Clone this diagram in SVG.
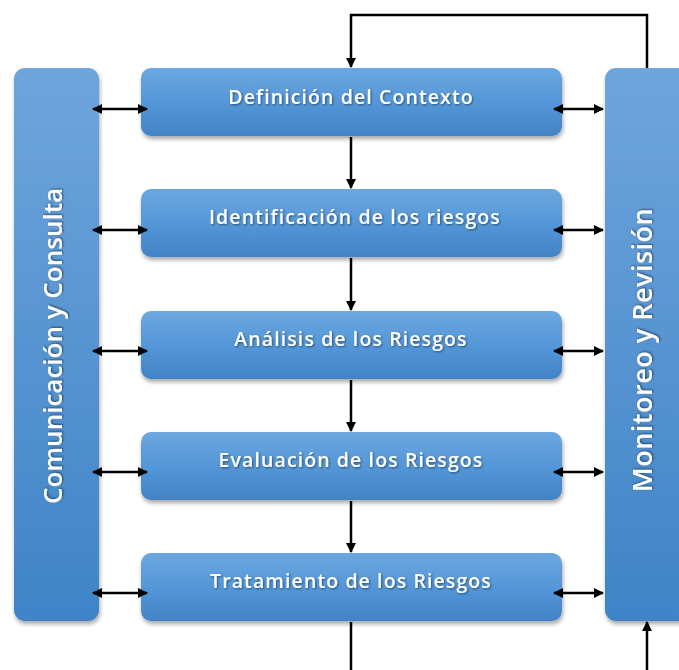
<svg xmlns="http://www.w3.org/2000/svg" width="679" height="670" viewBox="0 0 679 670">
<defs>
<linearGradient id="gBox" x1="0" y1="0" x2="0" y2="1">
<stop offset="0" stop-color="#6ca7df"/>
<stop offset="0.5" stop-color="#5497d8"/>
<stop offset="1" stop-color="#4283c6"/>
</linearGradient>
<linearGradient id="gBar" x1="0" y1="0" x2="0" y2="1">
<stop offset="0" stop-color="#6fa5dc"/>
<stop offset="1" stop-color="#3f84c7"/>
</linearGradient>
<filter id="sh" x="-10%" y="-10%" width="120%" height="130%">
<feGaussianBlur in="SourceAlpha" stdDeviation="2"/>
<feOffset dx="1" dy="3" result="b"/>
<feComponentTransfer><feFuncA type="linear" slope="0.35"/></feComponentTransfer>
<feMerge><feMergeNode/><feMergeNode in="SourceGraphic"/></feMerge>
</filter>
<filter id="ts" x="-5%" y="-20%" width="110%" height="140%">
<feGaussianBlur in="SourceAlpha" stdDeviation="0.8"/>
<feOffset dx="0.5" dy="1" result="b"/>
<feComponentTransfer><feFuncA type="linear" slope="0.5"/></feComponentTransfer>
<feMerge><feMergeNode/><feMergeNode in="SourceGraphic"/></feMerge>
</filter>
<marker id="ah" viewBox="0 0 10 10" refX="9" refY="5" markerWidth="4" markerHeight="4" orient="auto-start-reverse" markerUnits="strokeWidth">
<path d="M0,0 L10,5 L0,10 Z" fill="#000"/>
</marker>
</defs>
<style>
.box{fill:url(#gBox);filter:url(#sh)}
.bar{fill:url(#gBar);filter:url(#sh)}
.t{font-family:"Open Sans","Noto Sans","DejaVu Sans",sans-serif;font-weight:600;fill:#fff;text-anchor:middle;filter:url(#ts)}
.bt{font-size:19.5px;letter-spacing:1.1px}
.vt{font-size:26px}
.c{stroke:#000;stroke-width:2.5;fill:none}
.a{marker-end:url(#ah)}
.aa{marker-start:url(#ah);marker-end:url(#ah)}
</style>
<rect width="679" height="670" fill="#fff"/>
<g id="comunicacion">
<rect class="bar" x="14" y="68" width="85" height="553" rx="11"/>
<text class="t vt" transform="translate(62,346) rotate(-90)">Comunicación y Consulta</text>
</g>
<g id="monitoreo">
<rect class="bar" x="605" y="68" width="90" height="553" rx="11"/>
<text class="t vt" style="font-size:27px;letter-spacing:0.5px" transform="translate(652,350) rotate(-90)">Monitoreo y Revisión</text>
</g>
<g id="definicion">
<rect class="box" x="141" y="68" width="421" height="68" rx="10"/>
<text class="t bt" x="351" y="104">Definición del Contexto</text>
</g>
<g id="identificacion">
<rect class="box" x="141" y="189" width="421" height="68" rx="10"/>
<text class="t bt" x="355" y="224">Identificación de los riesgos</text>
</g>
<g id="analisis">
<rect class="box" x="141" y="311" width="421" height="68" rx="10"/>
<text class="t bt" x="351" y="346">Análisis de los Riesgos</text>
</g>
<g id="evaluacion">
<rect class="box" x="141" y="432" width="421" height="68" rx="10"/>
<text class="t bt" x="351" y="467">Evaluación de los Riesgos</text>
</g>
<g id="tratamiento">
<rect class="box" x="141" y="553" width="421" height="68" rx="10"/>
<text class="t bt" x="351" y="588">Tratamiento de los Riesgos</text>
</g>
<g id="connectors">
<path class="c aa" d="M93,109 H147"/>
<path class="c aa" d="M93,230 H147"/>
<path class="c aa" d="M93,351 H147"/>
<path class="c aa" d="M93,472 H147"/>
<path class="c aa" d="M93,593 H147"/>
<path class="c aa" d="M554,109 H603"/>
<path class="c aa" d="M554,230 H603"/>
<path class="c aa" d="M554,351 H603"/>
<path class="c aa" d="M554,472 H603"/>
<path class="c aa" d="M554,593 H603"/>
<path class="c a" d="M351,137 V188"/>
<path class="c a" d="M351,258 V310"/>
<path class="c a" d="M351,380 V431"/>
<path class="c a" d="M351,501 V552"/>
<path class="c a" d="M647,68 V15 H351 V67"/>
<path class="c" d="M351,622 V670"/>
<path class="c a" d="M647,670 V622"/>
</g>
</svg>
